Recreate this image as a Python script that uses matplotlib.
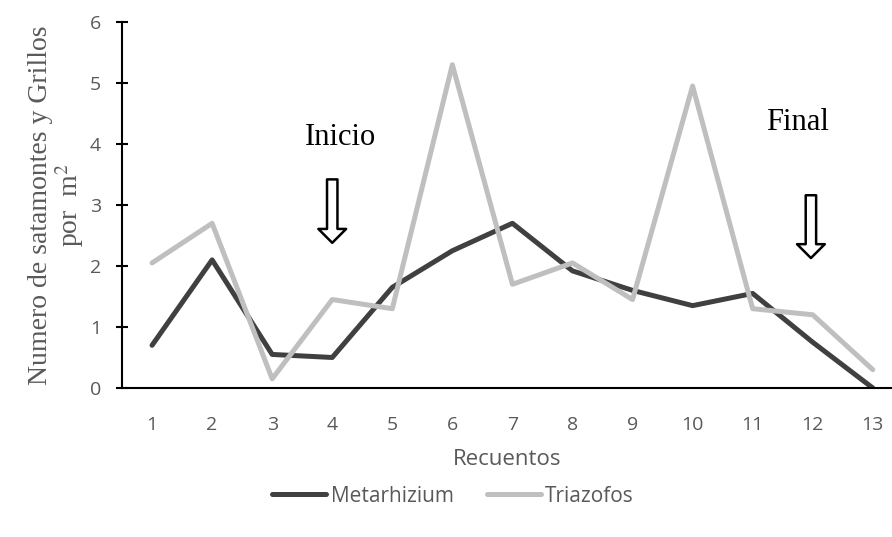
import matplotlib.pyplot as plt

plt.rcParams['mathtext.fontset'] = 'stix'

recuentos = list(range(1, 14))
metarhizium = [0.7, 2.1, 0.55, 0.5, 1.65, 2.25, 2.7, 1.92, 1.6, 1.35, 1.55, 0.75, 0.0]
triazofos = [2.05, 2.7, 0.15, 1.45, 1.3, 5.3, 1.7, 2.05, 1.45, 4.95, 1.3, 1.2, 0.3]

fig = plt.figure(figsize=(8.92, 5.37), dpi=100)
ax = fig.add_axes([0.1368, 0.2775, 0.8632, 0.6815])

ax.plot(recuentos, metarhizium, color='#404040', lw=3.6, label='Metarhizium', solid_capstyle='round')
ax.plot(recuentos, triazofos, color='#bfbfbf', lw=3.6, label='Triazofos', solid_capstyle='round')

ax.set_xlim(0.5, 13.32)
ax.set_ylim(0, 6)
ax.set_xticks(recuentos)
ax.set_yticks(range(0, 7))
for s in ['top', 'right']:
    ax.spines[s].set_visible(False)
ax.spines['left'].set_linewidth(1.5)
ax.spines['bottom'].set_linewidth(1.5)
ax.tick_params(axis='y', direction='inout', length=8, width=1.5, colors='black',
               labelcolor='#595959', labelsize=14, pad=11)
ax.tick_params(axis='x', length=0, labelcolor='#595959', labelsize=14, pad=20)
for t in ax.get_xticklabels() + ax.get_yticklabels():
    t.set_family('Open Sans')

ax.set_xlabel('Recuentos', fontsize=16, color='#595959', family='Open Sans', labelpad=11)
ax.set_ylabel('Numero de satamontes y Grillos\npor  m$^2$', fontsize=20,
              color='#595959', family='Liberation Serif', labelpad=3, linespacing=1.0)

ax.text(4.13, 4.1, 'Inicio', fontsize=22, family='Liberation Serif', ha='center', va='center')
ax.text(11.75, 4.36, 'Final', fontsize=22, family='Liberation Serif', ha='center', va='center')

aprops = dict(arrowstyle='simple,head_width=2.0,head_length=1.0,tail_width=0.75',
              fc='white', ec='black', lw=1.8, shrinkA=0, shrinkB=0)
ax.annotate('', xy=(4.0, 2.38), xytext=(4.0, 3.42), arrowprops=aprops)
ax.annotate('', xy=(11.97, 2.13), xytext=(11.97, 3.16), arrowprops=aprops)

leg = fig.legend(loc='center', bbox_to_anchor=(0.508, 0.076), ncol=2, frameon=False,
                 fontsize=15, handlelength=2.6, columnspacing=1.6, handletextpad=0.2)
for t in leg.get_texts():
    t.set_color('#595959')
    t.set_family('Open Sans')

fig.savefig('out.png', dpi=100)
